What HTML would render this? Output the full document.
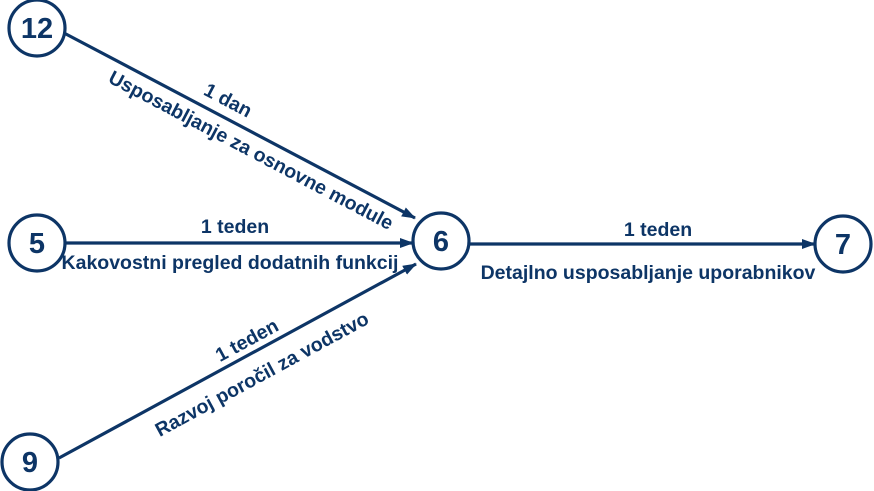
<!DOCTYPE html>
<html><head><meta charset="utf-8"><style>
html,body{margin:0;padding:0;background:#fff;}
svg{display:block;}
text{font-family:"Liberation Sans",Arial,sans-serif;font-weight:bold;fill:#0d3566;}
</style></head><body>
<svg width="874" height="491" viewBox="0 0 874 491" xmlns="http://www.w3.org/2000/svg">
<defs>
<marker id="a" markerWidth="14" markerHeight="10" refX="13" refY="5" orient="auto" markerUnits="userSpaceOnUse">
<path d="M0,0 L14,5 L0,10 Z" fill="#0d3566"/>
</marker>
</defs>
<g stroke="#0d3566" stroke-width="3.2" fill="none">
<line x1="64" y1="33" x2="415" y2="218" marker-end="url(#a)"/>
<line x1="66" y1="243" x2="413" y2="243" marker-end="url(#a)"/>
<line x1="59" y1="458" x2="416" y2="264" marker-end="url(#a)"/>
<line x1="470" y1="244" x2="815" y2="244" marker-end="url(#a)"/>
<circle cx="37" cy="28" r="28"/>
<circle cx="37" cy="243" r="28"/>
<circle cx="441" cy="241" r="28"/>
<circle cx="843" cy="244" r="28"/>
<circle cx="30" cy="462" r="28"/>
</g>
<g font-size="29" text-anchor="middle">
<text x="37" y="38">12</text>
<text x="37" y="253">5</text>
<text x="441" y="251">6</text>
<text x="843" y="254">7</text>
<text x="30" y="472">9</text>
</g>
<g font-size="19.5" text-anchor="middle">
<text transform="translate(225,106) rotate(27.8)">1 dan</text>
<text transform="translate(248,156) rotate(27.8)">Usposabljanje za osnovne module</text>
<text x="235" y="233">1 teden</text>
<text x="230" y="269">Kakovostni pregled dodatnih funkcij</text>
<text transform="translate(250,346) rotate(-28.5)">1 teden</text>
<text transform="translate(265,380) rotate(-28.5)">Razvoj poročil za vodstvo</text>
<text x="658" y="236">1 teden</text>
<text x="648" y="279">Detajlno usposabljanje uporabnikov</text>
</g>
</svg>
</body></html>
